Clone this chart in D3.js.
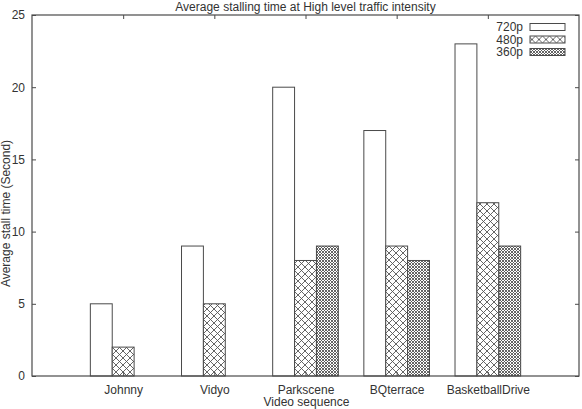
<!DOCTYPE html>
<html>
<head>
<meta charset="utf-8">
<script src="https://cdn.jsdelivr.net/npm/d3@7"></script>
<style>
  body { margin: 0; background: #fff; }
  text { font-family: "Liberation Sans", Arial, sans-serif; fill: #333; }
</style>
</head>
<body>
<script>
// stalling time data
var categories = ['Johnny', 'Vidyo', 'Parkscene', 'BQterrace', 'BasketballDrive']
var series = ['720p', '480p', '360p']
var v720 = [5, 9, 20, 17, 23]
var v480 = [2, 5, 8, 9, 12]
var v360 = [0, 0, 9, 8, 9]
var yTicks = [0, 5, 10, 15, 20, 25]

var values = [v720, v480, v360]
var W = 582, H = 409
var margin = { top: 15, right: 3, bottom: 33, left: 32 }
var w = W - margin.left - margin.right
var h = H - margin.top - margin.bottom
var line = '#4a4a4a'

var svg = d3.select('body').append('svg')
    .attr('width', W)
    .attr('height', H)

// fill patterns
var defs = svg.append('defs')
var p1 = defs.append('pattern')
    .attr('id', 'hatch480')
    .attr('patternUnits', 'userSpaceOnUse')
    .attr('width', 7).attr('height', 7)
p1.append('rect').attr('width', 7).attr('height', 7).attr('fill', '#fff')
p1.append('path')
    .attr('d', 'M0,0L7,7M7,0L0,7M-1,6L1,8M6,-1L8,1M-1,1L1,-1M6,8L8,6')
    .attr('stroke', '#555').attr('stroke-width', 0.9).attr('fill', 'none')
var p2 = defs.append('pattern')
    .attr('id', 'hatch360')
    .attr('patternUnits', 'userSpaceOnUse')
    .attr('width', 3).attr('height', 3)
p2.append('rect').attr('width', 3).attr('height', 3).attr('fill', '#fff')
p2.append('path')
    .attr('d', 'M0,0L3,3M3,0L0,3')
    .attr('stroke', '#555').attr('stroke-width', 0.9).attr('fill', 'none')
var fills = ['#fff', 'url(#hatch480)', 'url(#hatch360)']

var g = svg.append('g')
    .attr('transform', 'translate(' + margin.left + ',' + margin.top + ')')

var xScale = d3.scaleLinear().domain([0, 6]).range([0, w])
var yScale = d3.scaleLinear().domain([0, 25]).range([h, 0])
var bw = 0.24

// bars, one group per resolution
series.forEach(function (s, si) {
  var rows = values[si].map(function (v, i) { return { v: v, i: i } })
    .filter(function (d) { return d.v > 0 })
  g.append('g').selectAll('rect')
      .data(rows)
      .enter()
    .append('rect')
      .attr('x', function (d) { return xScale(d.i + 1 + (si - 1) * bw - bw / 2) })
      .attr('width', xScale(bw) - xScale(0))
      .attr('y', function (d) { return yScale(d.v) })
      .attr('height', function (d) { return h - yScale(d.v) })
      .attr('fill', fills[si])
      .attr('stroke', line)
      .attr('stroke-width', 1)
})

// frame
g.append('rect')
    .attr('width', w).attr('height', h)
    .attr('fill', 'none').attr('stroke', line).attr('stroke-width', 1.2)

// y axis ticks (mirrored, inward)
var gl = g.append('g')
    .call(d3.axisLeft(yScale).tickValues(yTicks).tickSize(-4).tickPadding(7))
gl.select('.domain').remove()
gl.selectAll('line').attr('stroke', line)
gl.selectAll('text').attr('font-size', 12).attr('x', -7)
var gr = g.append('g').attr('transform', 'translate(' + w + ',0)')
    .call(d3.axisRight(yScale).tickValues(yTicks).tickSize(-4).tickFormat(''))
gr.select('.domain').remove()
gr.selectAll('line').attr('stroke', line)

// x axis
var xt = categories.map(function (c, i) { return i + 1 })
var gb = g.append('g').attr('transform', 'translate(0,' + h + ')')
    .call(d3.axisBottom(xScale).tickValues(xt).tickSize(-4).tickPadding(9)
      .tickFormat(function (d) { return categories[d - 1] }))
gb.select('.domain').remove()
gb.selectAll('line').attr('stroke', line)
gb.selectAll('text').attr('font-size', 12)
var gt = g.append('g')
    .call(d3.axisTop(xScale).tickValues(xt).tickSize(-4).tickFormat(''))
gt.select('.domain').remove()
gt.selectAll('line').attr('stroke', line)

// title and labels
svg.append('text')
    .attr('x', margin.left + w / 2).attr('y', 11)
    .attr('text-anchor', 'middle').attr('font-size', 12)
    .text('Average stalling time at High level traffic intensity')
svg.append('text')
    .attr('x', margin.left + w / 2 + 1).attr('y', 406)
    .attr('text-anchor', 'middle').attr('font-size', 12)
    .text('Video sequence')
svg.append('text')
    .attr('transform', 'rotate(-90)')
    .attr('x', -(margin.top + h / 2 + 18)).attr('y', 10)
    .attr('text-anchor', 'middle').attr('font-size', 12)
    .text('Average stall time (Second)')

// legend
var leg = svg.append('g').selectAll('g')
    .data(series)
    .enter()
  .append('g')
    .attr('transform', function (d, i) { return 'translate(0,' + (27 + i * 12.5) + ')' })
leg.append('text')
    .attr('x', 523).attr('y', 4)
    .attr('text-anchor', 'end').attr('font-size', 12)
    .text(function (d) { return d })
leg.append('rect')
    .attr('x', 530).attr('y', -3.5)
    .attr('width', 35).attr('height', 7)
    .attr('fill', function (d, i) { return fills[i] })
    .attr('stroke', line)
</script>
</body>
</html>
